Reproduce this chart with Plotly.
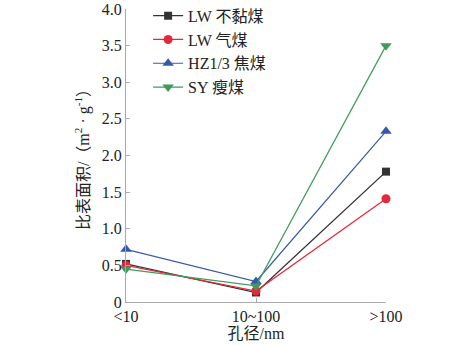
import plotly.graph_objects as go

categories = ["<10", "10~100", ">100"]
series_names = ["LW 不黏煤", "LW 气煤", "HZ1/3 焦煤", "SY 瘦煤"]
lw_bunian = [0.52, 0.13, 1.78]
lw_qi = [0.50, 0.15, 1.41]
hz_jiao = [0.72, 0.28, 2.33]
sy_shou = [0.45, 0.22, 3.50]
y_ticks = [0, 0.5, 1.0, 1.5, 2.0, 2.5, 3.0, 3.5, 4.0]
y_tick_text = ["0", "0.5", "1.0", "1.5", "2.0", "2.5", "3.0", "3.5", "4.0"]

colors = ["#333333", "#e5283a", "#3558a8", "#3f9a5e"]
symbols = ["square", "circle", "triangle-up", "triangle-down"]
sizes = [8, 9, 10, 10]
values = [lw_bunian, lw_qi, hz_jiao, sy_shou]

font_family = "Liberation Serif, Noto Sans CJK SC, serif"

fig = go.Figure()
for name, vals, c, s, sz in zip(series_names, values, colors, symbols, sizes):
    fig.add_trace(go.Scatter(
        x=[0, 1, 2], y=vals, name=name, mode="lines+markers",
        line=dict(color=c, width=1.2),
        marker=dict(symbol=s, size=sz, color=c),
        cliponaxis=False,
    ))

fig.update_layout(
    width=472, height=345,
    margin=dict(l=126, r=86, t=9, b=43, autoexpand=False),
    paper_bgcolor="white", plot_bgcolor="white",
    font=dict(family=font_family, size=16, color="#222"),
    showlegend=True,
    legend=dict(x=0.085, y=1.035, xanchor="left", yanchor="top",
                bgcolor="rgba(0,0,0,0)", font=dict(size=16),
                tracegroupgap=0),
    xaxis=dict(
        range=[0, 2], tickmode="array", tickvals=[0, 1, 2], ticktext=categories,
        showline=True, linecolor="#aaaaaa", linewidth=1,
        ticks="inside", ticklen=4, tickcolor="#aaaaaa",
        showgrid=False, zeroline=False,
        title=dict(text="孔径/nm", standoff=0, font=dict(size=16)),
    ),
    yaxis=dict(
        range=[0, 4.0], tickmode="array", tickvals=y_ticks, ticktext=y_tick_text,
        showline=True, linecolor="#aaaaaa", linewidth=1,
        ticks="inside", ticklen=4, tickcolor="#aaaaaa",
        showgrid=False, zeroline=False,
        title=dict(text="比表面积/（m<sup>2</sup> · g<sup>-1</sup>）", standoff=8, font=dict(size=16)),
    ),
)

fig.write_html("out.html")
